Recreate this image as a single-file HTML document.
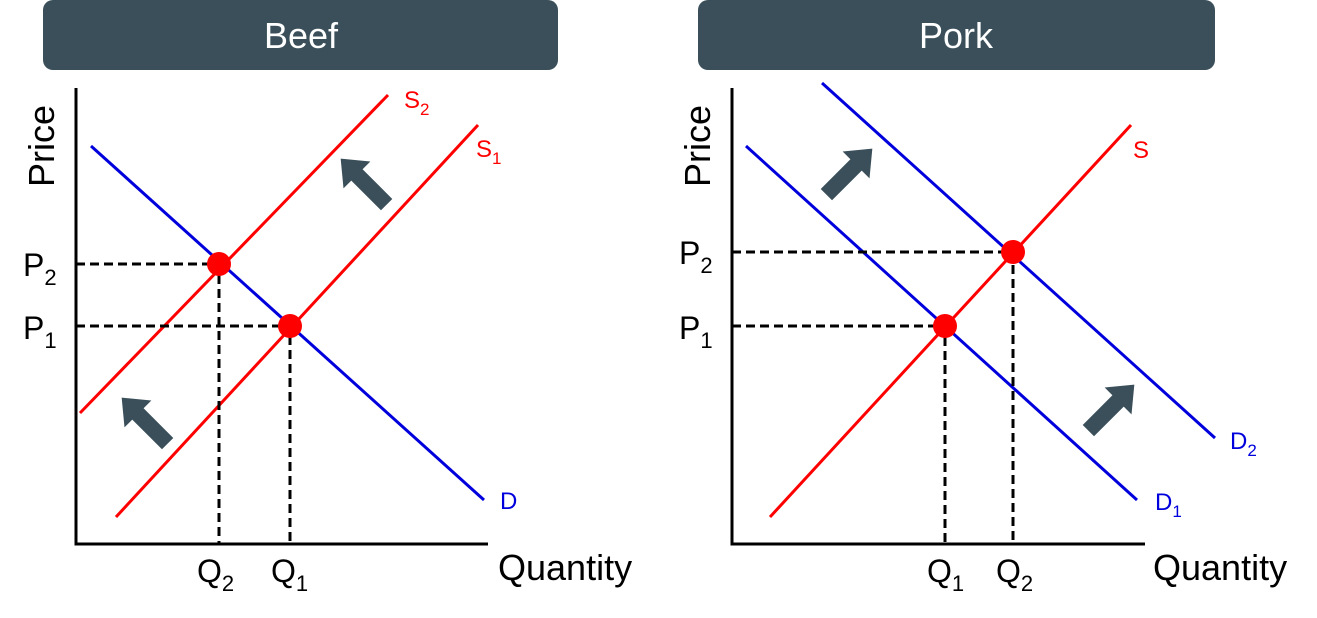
<!DOCTYPE html>
<html><head><meta charset="utf-8"><style>
html,body{margin:0;padding:0;background:#fff;}
svg{display:block;}
text{font-family:"Liberation Sans",Arial,sans-serif;}
</style></head><body>
<svg width="1317" height="618" viewBox="0 0 1317 618" xmlns="http://www.w3.org/2000/svg">
<defs>
<polygon id="arr" points="0,-33 19,-10 8,-10 8,32 -8,32 -8,-10 -19,-10" fill="#3a4f5a"/>
</defs>
<!-- headers -->
<rect x="43" y="0" width="515" height="70" rx="10" fill="#3a4f5a"/>
<text x="301" y="48" font-size="36" fill="#fff" text-anchor="middle">Beef</text>
<rect x="698" y="0" width="517" height="70" rx="10" fill="#3a4f5a"/>
<text x="956" y="48" font-size="36" fill="#fff" text-anchor="middle">Pork</text>

<!-- LEFT -->
<polyline points="76,88 76,544 488,544" fill="none" stroke="#000" stroke-width="3"/>
<text transform="translate(54,146) rotate(-90)" font-size="36" text-anchor="middle">Price</text>
<line x1="80" y1="413" x2="388" y2="95" stroke="#f00" stroke-width="3"/>
<line x1="116" y1="517" x2="478" y2="125" stroke="#f00" stroke-width="3"/>
<line x1="91" y1="146" x2="484" y2="500" stroke="#00d" stroke-width="3"/>
<g stroke="#000" stroke-width="3" stroke-dasharray="9,5" fill="none">
<polyline points="76,264 219,264 219,544"/>
<polyline points="76,326 290,326 290,544"/>
</g>
<circle cx="219" cy="264" r="12" fill="#f00"/>
<circle cx="290" cy="326" r="12" fill="#f00"/>
<text x="404" y="108" font-size="24" fill="#f00">S<tspan font-size="17" dy="7">2</tspan></text>
<text x="476" y="157" font-size="24" fill="#f00">S<tspan font-size="17" dy="7">1</tspan></text>
<text x="500" y="509" font-size="24" fill="#00d">D</text>
<text x="23" y="276" font-size="32">P<tspan font-size="22" dy="9">2</tspan></text>
<text x="23" y="339" font-size="32">P<tspan font-size="22" dy="9">1</tspan></text>
<text x="197" y="582" font-size="32">Q<tspan font-size="22" dy="9">2</tspan></text>
<text x="271" y="582" font-size="32">Q<tspan font-size="22" dy="9">1</tspan></text>
<text x="498" y="580" font-size="36">Quantity</text>
<use href="#arr" transform="translate(364,182) rotate(-45)"/>
<use href="#arr" transform="translate(145,421) rotate(-45)"/>

<!-- RIGHT -->
<polyline points="732,88 732,544 1145,544" fill="none" stroke="#000" stroke-width="3"/>
<text transform="translate(710,146) rotate(-90)" font-size="36" text-anchor="middle">Price</text>
<line x1="770" y1="517" x2="1131" y2="125" stroke="#f00" stroke-width="3"/>
<line x1="746" y1="146" x2="1137" y2="500" stroke="#00d" stroke-width="3"/>
<line x1="822" y1="83" x2="1215" y2="438" stroke="#00d" stroke-width="3"/>
<g stroke="#000" stroke-width="3" stroke-dasharray="9,5" fill="none">
<polyline points="732,252 1013,252 1013,544"/>
<polyline points="732,326 945,326 945,544"/>
</g>
<circle cx="1013" cy="252" r="12" fill="#f00"/>
<circle cx="945" cy="326" r="12" fill="#f00"/>
<text x="1133" y="158" font-size="24" fill="#f00">S</text>
<text x="1230" y="449" font-size="24" fill="#00d">D<tspan font-size="17" dy="7">2</tspan></text>
<text x="1155" y="510" font-size="24" fill="#00d">D<tspan font-size="17" dy="7">1</tspan></text>
<text x="679" y="264" font-size="32">P<tspan font-size="22" dy="9">2</tspan></text>
<text x="679" y="339" font-size="32">P<tspan font-size="22" dy="9">1</tspan></text>
<text x="927" y="582" font-size="32">Q<tspan font-size="22" dy="9">1</tspan></text>
<text x="996" y="582" font-size="32">Q<tspan font-size="22" dy="9">2</tspan></text>
<text x="1153" y="580" font-size="36">Quantity</text>
<use href="#arr" transform="translate(849,172) rotate(45)"/>
<use href="#arr" transform="translate(1111,408) rotate(45)"/>
</svg>
</body></html>
